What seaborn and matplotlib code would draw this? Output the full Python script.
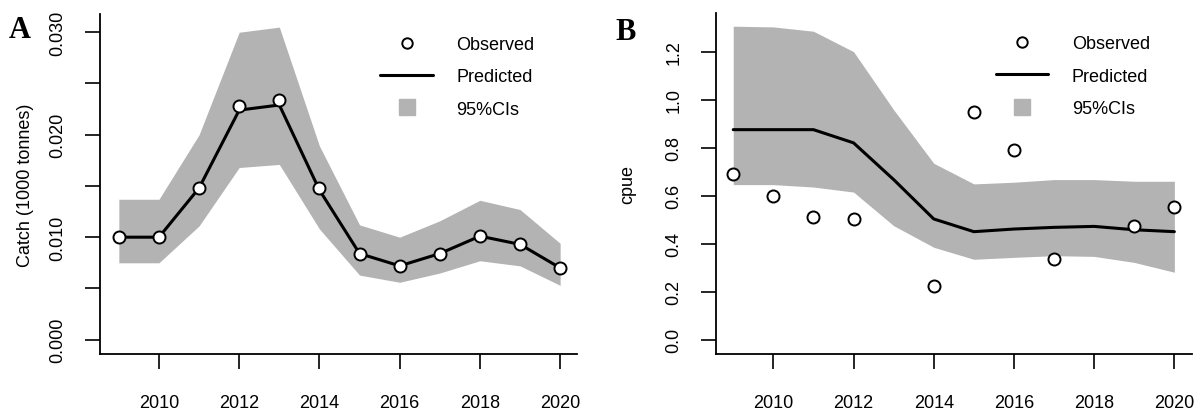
import numpy as np
import pandas as pd
import matplotlib
matplotlib.use("Agg")
import matplotlib.pyplot as plt
from matplotlib.lines import Line2D
import seaborn as sns

# ---------------- data ----------------
years = [2009, 2010, 2011, 2012, 2013, 2014, 2015, 2016, 2017, 2018, 2019, 2020]

catch_obs = [0.0100, 0.0100, 0.0148, 0.0228, 0.0234, 0.0148, 0.0084, 0.0072, 0.0084, 0.0101, 0.0093, 0.0070]
catch_pred = [0.0100, 0.0100, 0.0148, 0.0224, 0.0229, 0.0146, 0.0084, 0.0072, 0.0084, 0.0101, 0.0093, 0.0070]
catch_upper = [0.0137, 0.0137, 0.0200, 0.0300, 0.0305, 0.0189, 0.0112, 0.0100, 0.0116, 0.0136, 0.0127, 0.0094]
catch_lower = [0.0075, 0.0075, 0.0111, 0.0168, 0.0171, 0.0108, 0.0063, 0.0056, 0.0065, 0.0077, 0.0072, 0.0053]

cpue_obs = [0.690, 0.597, 0.511, 0.502, np.nan, 0.224, 0.947, 0.790, 0.338, np.nan, 0.474, 0.552]
cpue_pred = [0.875, 0.875, 0.875, 0.820, 0.667, 0.503, 0.450, 0.461, 0.468, 0.472, 0.458, 0.450]
cpue_upper = [1.306, 1.303, 1.285, 1.200, 0.958, 0.735, 0.649, 0.656, 0.667, 0.667, 0.660, 0.660]
cpue_lower = [0.646, 0.646, 0.636, 0.615, 0.475, 0.385, 0.335, 0.343, 0.350, 0.347, 0.322, 0.281]

xticks = [2010, 2012, 2014, 2016, 2018, 2020]
catch_yticks = [0.000, 0.005, 0.010, 0.015, 0.020, 0.025, 0.030]
catch_yticklabels = ["0.000", "", "0.010", "", "0.020", "", "0.030"]
cpue_yticks = [0.0, 0.2, 0.4, 0.6, 0.8, 1.0, 1.2]
cpue_yticklabels = ["0.0", "0.2", "0.4", "0.6", "0.8", "1.0", "1.2"]

legend_labels = ["Observed", "Predicted", "95%CIs"]

# ---------------- style ----------------
sns.set_style("ticks")
plt.rcParams["font.family"] = ["Liberation Sans", "DejaVu Sans"]
plt.rcParams["text.color"] = "black"
plt.rcParams["axes.labelcolor"] = "black"
plt.rcParams["xtick.color"] = "black"
plt.rcParams["ytick.color"] = "black"

BAND = "#b3b3b3"
FS = 13

fig = plt.figure(figsize=(11.98, 4.14), dpi=100)
W, H = 1198, 414
axA = fig.add_axes([100 / W, 1 - 355 / H, 477 / W, 340 / H])
axB = fig.add_axes([716 / W, 1 - 355 / H, 476 / W, 341 / H])


def draw(ax, obs, pred, lo, hi):
    df = pd.DataFrame({"year": years, "obs": obs, "pred": pred, "lo": lo, "hi": hi})
    ax.fill_between(df["year"], df["lo"], df["hi"], color=BAND, lw=0, zorder=1)
    sns.lineplot(data=df, x="year", y="pred", ax=ax, color="black", lw=2.2, zorder=2)
    sns.scatterplot(data=df.dropna(subset=["obs"]), x="year", y="obs", ax=ax,
                    color="white", edgecolor="black", linewidth=1.4, s=75, zorder=3)


draw(axA, catch_obs, catch_pred, catch_lower, catch_upper)
draw(axB, cpue_obs, cpue_pred, cpue_lower, cpue_upper)

axA.set_xlim(2008.53, 2020.42)
axA.set_ylim(-0.0014, 0.03178)
axB.set_xlim(2008.57, 2020.44)
axB.set_ylim(-0.0596, 1.361)

axA.set_yticks(catch_yticks)
axA.set_yticklabels(catch_yticklabels)
axB.set_yticks(cpue_yticks)
axB.set_yticklabels(cpue_yticklabels)

for ax in (axA, axB):
    ax.set_xticks(xticks)
    ax.set_xticklabels([str(t) for t in xticks])
    for side in ("top", "right"):
        ax.spines[side].set_visible(False)
    for side in ("left", "bottom"):
        ax.spines[side].set_linewidth(1.3)
        ax.spines[side].set_color("black")
    ax.tick_params(axis="x", length=11, width=1.2, pad=18, labelsize=FS, colors="black")
    ax.tick_params(axis="y", length=11, width=1.2, pad=13, labelsize=FS, colors="black")
    for lab in ax.get_yticklabels():
        lab.set_rotation(90)
        lab.set_va("center")
    ax.set_xlabel("")
    handles = [
        Line2D([], [], marker="o", ls="none", mfc="white", mec="black", ms=7.5, mew=1.4),
        Line2D([], [], color="black", lw=2.2),
        Line2D([], [], marker="s", ls="none", color=BAND, ms=12),
    ]
    ax.legend(handles, legend_labels, loc="upper left", bbox_to_anchor=(0.588, 0.935),
              frameon=False, fontsize=FS, handlelength=2.9, handletextpad=1.3,
              labelspacing=0.85, borderpad=0, borderaxespad=0)

axA.set_ylabel("Catch (1000 tonnes)", fontsize=FS)
axA.yaxis.label.set_va("center")
axA.yaxis.set_label_coords(-0.157, 0.5)
axB.set_ylabel("cpue", fontsize=FS)
axB.yaxis.label.set_va("center")
axB.yaxis.set_label_coords(-0.185, 0.5)

fig.text(20 / W, 1 - 31 / H, "A", fontsize=22, fontweight="bold",
         family=["Liberation Serif", "DejaVu Serif"], ha="center", va="center")
fig.text(626 / W, 1 - 32 / H, "B", fontsize=22, fontweight="bold",
         family=["Liberation Serif", "DejaVu Serif"], ha="center", va="center")

fig.savefig("out.png", dpi=100)
